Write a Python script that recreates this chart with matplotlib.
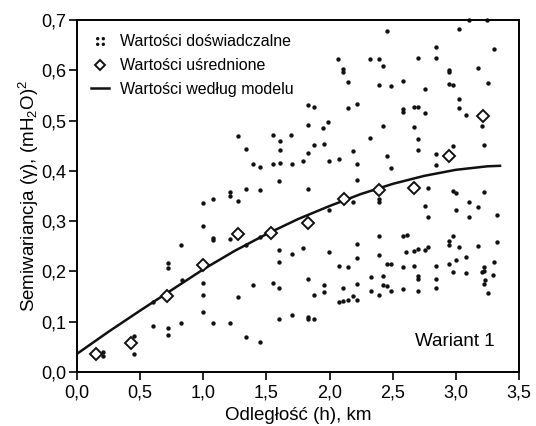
import numpy as np
import matplotlib
matplotlib.use("Agg")
import matplotlib.pyplot as plt
from matplotlib.path import Path
from matplotlib.lines import Line2D

plt.rcParams['font.family'] = ['Liberation Sans', 'DejaVu Sans']
plt.rcParams['mathtext.fontset'] = 'custom'
plt.rcParams['mathtext.rm'] = 'Liberation Sans'
plt.rcParams['mathtext.it'] = 'Liberation Sans'

# wartości doświadczalne (h, gamma)
pts = [
    (2.069, 0.623), (2.109, 0.602), (2.109, 0.596), (2.148, 0.576), (1.831, 0.530),
    (1.876, 0.527), (2.148, 0.524), (2.219, 0.533), (1.831, 0.491), (1.950, 0.486),
    (1.990, 0.497), (1.277, 0.469), (1.554, 0.472), (1.694, 0.472),
    (2.452, 0.679), (3.027, 0.683), (3.104, 0.700), (3.250, 0.700), (2.840, 0.647),
    (3.299, 0.643), (2.322, 0.622), (2.391, 0.623), (2.423, 0.608), (2.697, 0.624),
    (2.840, 0.625), (2.948, 0.600), (2.948, 0.596), (3.177, 0.605), (2.388, 0.570),
    (2.483, 0.568), (2.578, 0.578), (2.755, 0.562), (2.948, 0.573), (2.979, 0.570),
    (3.252, 0.575), (2.578, 0.522), (2.578, 0.517), (2.668, 0.526), (2.697, 0.526),
    (2.755, 0.515), (3.027, 0.542), (3.027, 0.525), (3.077, 0.512), (2.420, 0.489),
    (2.668, 0.488), (3.204, 0.489), (2.322, 0.466), (2.697, 0.464),
    (1.000, 0.336), (1.074, 0.344), (1.000, 0.291), (1.074, 0.266), (0.823, 0.252),
    (0.723, 0.217), (0.723, 0.207),
    (1.607, 0.459), (1.607, 0.442), (1.876, 0.451), (1.956, 0.454), (1.831, 0.436),
    (1.338, 0.444), (2.183, 0.440), (1.391, 0.414), (1.449, 0.408), (1.554, 0.414),
    (1.607, 0.416), (1.700, 0.414), (1.787, 0.420), (1.998, 0.420), (2.072, 0.424),
    (2.219, 0.414), (1.602, 0.379), (2.219, 0.381), (1.336, 0.363), (1.449, 0.361),
    (1.831, 0.363), (1.211, 0.357), (1.211, 0.349), (1.277, 0.340), (2.183, 0.337),
    (1.995, 0.322), (1.074, 0.263), (1.211, 0.264), (1.338, 0.253), (1.449, 0.268),
    (1.602, 0.242), (1.700, 0.234), (1.787, 0.246), (1.995, 0.238), (2.219, 0.254),
    (1.602, 0.219), (2.072, 0.210), (2.148, 0.208), (2.219, 0.226),
    (2.697, 0.441), (2.974, 0.449), (3.225, 0.452), (2.452, 0.430), (2.840, 0.434),
    (2.486, 0.406), (2.840, 0.412), (2.782, 0.365), (2.974, 0.359), (3.001, 0.356),
    (3.225, 0.358), (2.394, 0.344), (2.394, 0.337), (2.755, 0.330), (3.104, 0.337),
    (3.177, 0.329), (3.001, 0.322), (2.782, 0.309), (3.104, 0.309), (3.323, 0.312),
    (2.394, 0.271), (2.578, 0.270), (2.610, 0.272), (2.974, 0.271), (2.948, 0.261),
    (2.948, 0.252), (3.027, 0.248), (3.177, 0.250), (3.323, 0.258), (2.782, 0.248),
    (2.755, 0.243), (2.697, 0.244), (2.668, 0.241), (2.605, 0.238), (2.394, 0.233),
    (2.452, 0.215), (2.483, 0.215), (2.578, 0.208), (2.668, 0.210), (2.840, 0.210),
    (2.948, 0.215), (3.001, 0.222), (3.077, 0.228), (3.225, 0.208), (3.302, 0.218),
    (0.834, 0.182), (0.599, 0.140), (1.000, 0.177), (1.000, 0.152), (1.000, 0.120),
    (1.074, 0.098), (0.823, 0.098), (0.604, 0.092), (0.723, 0.087), (0.723, 0.074),
    (0.451, 0.072), (0.451, 0.035), (0.203, 0.040), (0.203, 0.032),
    (1.211, 0.098), (1.277, 0.149), (1.391, 0.172), (1.338, 0.069), (1.449, 0.060),
    (1.554, 0.177), (1.602, 0.166), (1.602, 0.106), (1.700, 0.114), (1.831, 0.185),
    (1.876, 0.153), (1.831, 0.110), (1.831, 0.105), (1.876, 0.105), (1.956, 0.173),
    (1.956, 0.159), (2.109, 0.167), (2.072, 0.140), (2.109, 0.141), (2.148, 0.143),
    (2.219, 0.175), (2.219, 0.143),
    (2.325, 0.189), (2.420, 0.190), (2.697, 0.190), (2.697, 0.185), (2.840, 0.185),
    (2.974, 0.198), (3.077, 0.197), (3.204, 0.198), (3.225, 0.201), (3.296, 0.192),
    (3.230, 0.182), (3.225, 0.175), (3.252, 0.157), (2.188, 0.150), (2.325, 0.161),
    (2.394, 0.153), (2.420, 0.172), (2.452, 0.170), (2.486, 0.161), (2.578, 0.165),
    (2.697, 0.160), (2.840, 0.167),
]
h_exp = [p[0] for p in pts]
g_exp = [p[1] for p in pts]

# wartości uśrednione
h_avg = [0.148, 0.430, 0.710, 1.000, 1.275, 1.536, 1.826, 2.114, 2.394, 2.668, 2.948, 3.217]
g_avg = [0.035, 0.057, 0.150, 0.213, 0.275, 0.276, 0.296, 0.344, 0.361, 0.366, 0.430, 0.510]

# wartości według modelu
h_mod = [0.0, 0.25, 0.5, 0.75, 1.0, 1.25, 1.5, 1.75, 2.0, 2.25, 2.5, 2.75, 3.0, 3.25, 3.35]
g_mod = [0.036, 0.080, 0.122, 0.163, 0.204, 0.241, 0.274, 0.304, 0.330, 0.354, 0.374, 0.390, 0.402, 0.409, 0.410]

xticks = [0.0, 0.5, 1.0, 1.5, 2.0, 2.5, 3.0, 3.5]
xticklabels = ['0,0', '0,5', '1,0', '1,5', '2,0', '2,5', '3,0', '3,5']
yticks = [0.0, 0.1, 0.2, 0.3, 0.4, 0.5, 0.6, 0.7]
yticklabels = ['0,0', '0,1', '0,2', '0,3', '0,4', '0,5', '0,6', '0,7']

fig = plt.figure(figsize=(5.36, 4.26), dpi=100)
ax = fig.add_axes([0.1437, 0.127, 0.8245, 0.826])

ax.scatter(h_exp, g_exp, s=10, color='#111111', linewidths=0, zorder=2, clip_on=False)
ax.plot(h_mod, g_mod, color='#111111', lw=1.8, zorder=3)
ax.plot(h_avg, g_avg, 'D', ms=6, mfc='white', mec='#111111', mew=1.4, zorder=4)

ax.set_xlim(0, 3.5)
ax.set_ylim(0, 0.7)
ax.set_xticks(xticks)
ax.set_xticklabels(xticklabels)
ax.set_yticks(yticks)
ax.set_yticklabels(yticklabels)
ax.tick_params(labelsize=13, length=6, width=1.2, direction='out', pad=1.5)
ax.tick_params(axis='x', pad=3)
for s in ax.spines.values():
    s.set_linewidth(1.4)

ax.set_xlabel('Odległość (h), km', fontsize=13.5, labelpad=4)
ax.set_ylabel('Semiwariancja (γ), (mH$_2$O)$^2$', fontsize=13.5, labelpad=0)

ax.text(0.945, 0.062, 'Wariant 1', transform=ax.transAxes, ha='right', va='bottom',
        fontsize=13.5)

# marker z czterech kropek do legendy
dots = Path.make_compound_path(*[Path.circle((cx, cy), 0.6)
                                 for cx in (-1, 1) for cy in (-1, 1)])
handles = [
    Line2D([], [], marker=dots, ms=6.5, ls='none', color='#111111', mew=0),
    Line2D([], [], marker='D', ms=5, ls='none', mfc='white', mec='#111111', mew=1.4),
    Line2D([], [], color='#111111', lw=1.8),
]
labels = ['Wartości doświadczalne', 'Wartości uśrednione', 'Wartości według modelu']
ax.legend(handles, labels, loc='upper left', frameon=False, fontsize=11.5,
          handlelength=1.1, handletextpad=0.7, labelspacing=0.55,
          borderaxespad=0.5, borderpad=0.4)

fig.savefig('out.png', dpi=100)
